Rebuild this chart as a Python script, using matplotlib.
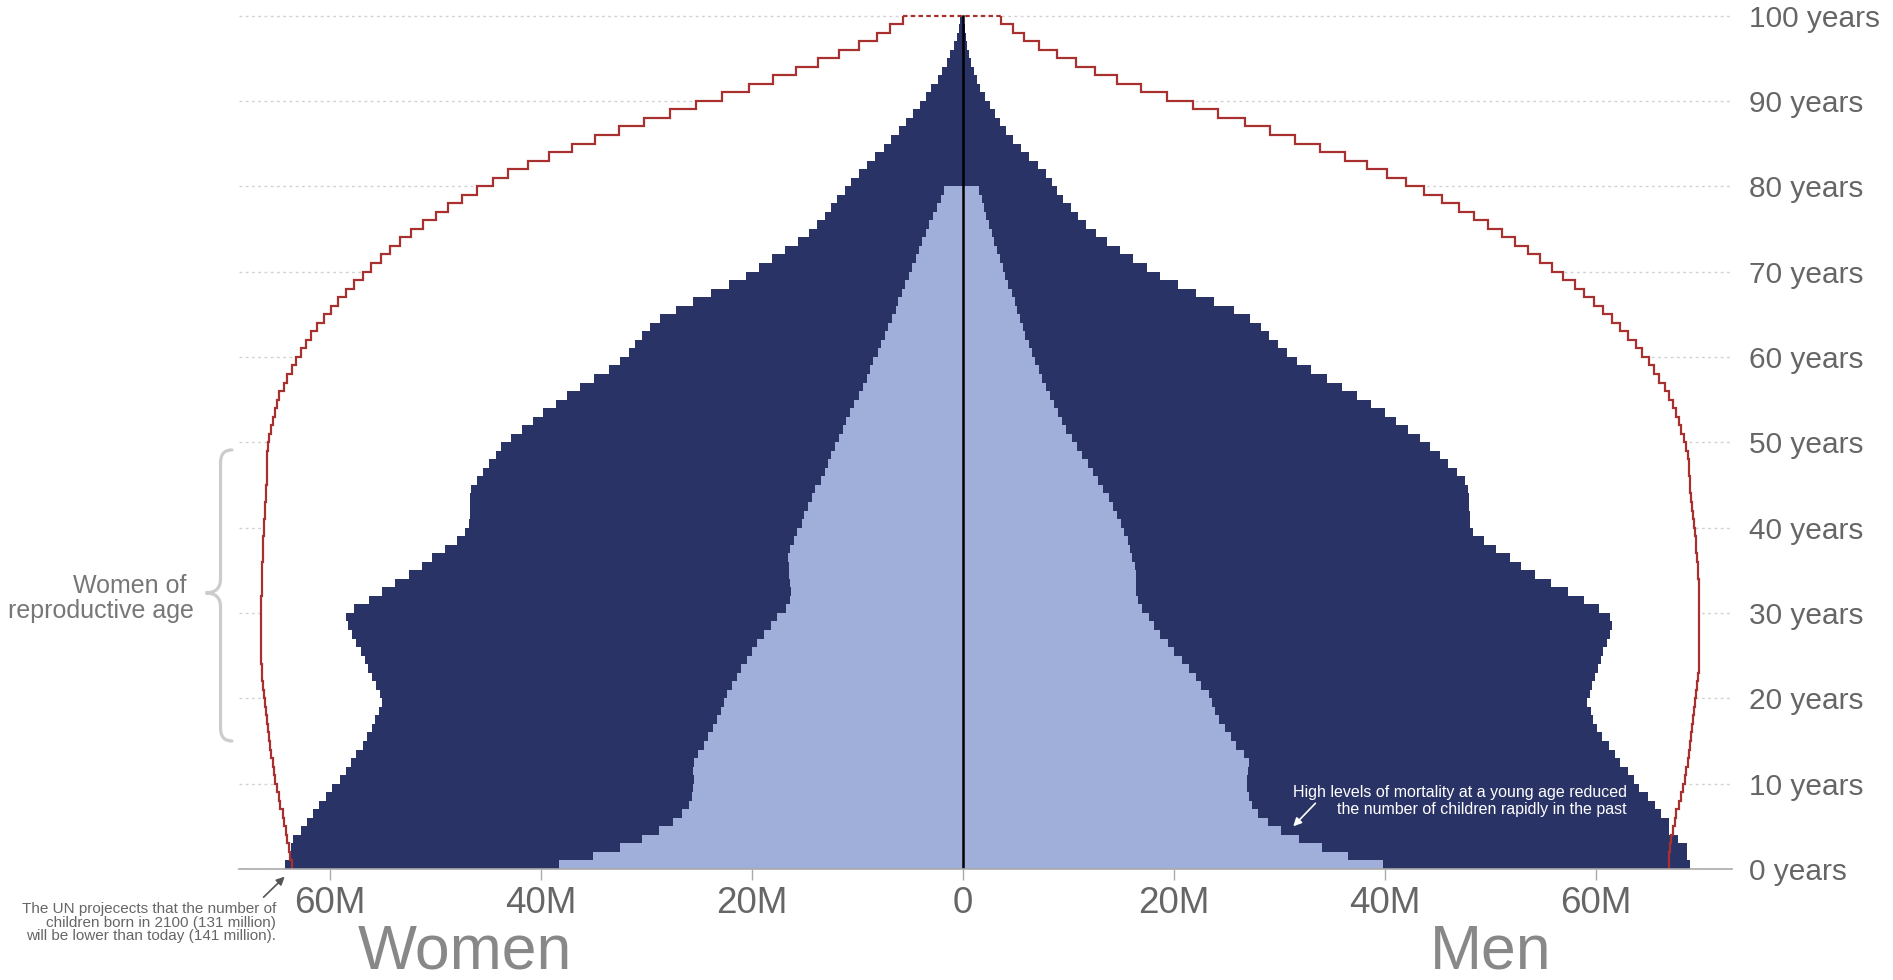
import matplotlib
matplotlib.use("Agg")
import matplotlib.pyplot as plt
import numpy as np
from matplotlib.path import Path
from matplotlib.patches import PathPatch

# population by single year of age, millions (ages 0..99)
men_today = [68.9, 68.6, 68.6, 67.8, 66.9, 66.9, 66.2, 65.6, 64.9, 64.1,
             63.6, 63.0, 62.3, 61.8, 61.2, 60.6, 60.1, 59.7, 59.5, 59.1,
             59.4, 59.6, 59.9, 60.2, 60.5, 60.7, 61.0, 61.3, 61.5, 61.3,
             60.3, 58.9, 57.3, 55.7, 54.2, 52.9, 51.8, 50.5, 49.4, 48.3,
             48.1, 48.1, 48.0, 48.0, 47.9, 47.6, 46.8, 46.0, 45.2, 44.3,
             43.3, 42.2, 41.0, 40.0, 38.7, 37.3, 35.9, 34.5, 33.0, 31.7,
             30.7, 29.9, 29.0, 28.2, 27.2, 25.7, 23.8, 22.1, 20.4, 18.7,
             17.4, 16.1, 14.9, 13.6, 12.6, 11.7, 10.9, 10.2, 9.5, 8.9,
             8.4, 7.9, 7.1, 6.3, 5.5, 4.75, 4.1, 3.55, 3.05, 2.55,
             2.05, 1.65, 1.33, 1.04, 0.79, 0.57, 0.38, 0.25, 0.15, 0.08]

women_today = [64.3, 63.9, 63.7, 63.5, 62.8, 62.2, 61.6, 61.0, 60.4, 59.8,
               59.1, 58.5, 58.0, 57.5, 56.9, 56.5, 56.0, 55.7, 55.4, 55.1,
               55.3, 55.6, 56.0, 56.4, 56.7, 57.1, 57.5, 57.9, 58.3, 58.5,
               57.7, 56.3, 55.1, 53.8, 52.5, 51.3, 50.3, 49.1, 48.0, 47.2,
               46.8, 46.7, 46.7, 46.7, 46.6, 46.1, 45.5, 44.9, 44.3, 43.8,
               42.8, 41.8, 40.8, 39.8, 38.6, 37.5, 36.3, 35.0, 33.6, 32.5,
               31.7, 31.1, 30.4, 29.7, 28.7, 27.2, 25.6, 23.9, 22.2, 20.6,
               19.3, 18.1, 16.9, 15.6, 14.6, 13.8, 13.1, 12.5, 11.9, 11.2,
               10.6, 9.9, 9.1, 8.3, 7.5, 6.8, 6.1, 5.4, 4.77, 4.1,
               3.5, 3.0, 2.4, 2.0, 1.5, 1.2, 0.86, 0.6, 0.4, 0.3]

# 1950 (ages 0..79, last group is 80+ shown flat)
men_1950 = [39.8, 36.5, 34.0, 31.8, 30.1, 28.9, 28.0, 27.4, 27.1, 26.9,
            26.9, 27.0, 27.1, 26.6, 25.9, 25.4, 24.8, 24.3, 23.9, 23.6,
            23.3, 22.6, 22.1, 21.4, 20.8, 20.0, 19.4, 18.7, 18.1, 17.6,
            17.0, 16.6, 16.4, 16.4, 16.4, 16.3, 16.0, 15.8, 15.6, 15.3,
            15.0, 14.6, 14.2, 13.8, 13.3, 12.8, 12.3, 11.8, 11.3, 10.8,
            10.3, 9.8, 9.4, 9.0, 8.6, 8.2, 7.9, 7.5, 7.2, 6.8,
            6.5, 6.25, 5.9, 5.7, 5.4, 5.1, 4.9, 4.6, 4.3, 4.0,
            3.8, 3.5, 3.2, 2.9, 2.7, 2.5, 2.2, 2.0, 1.8, 1.5]

women_1950 = [38.3, 35.1, 32.5, 30.4, 28.8, 27.5, 26.6, 26.0, 25.7, 25.6,
              25.5, 25.6, 25.5, 25.1, 24.6, 24.2, 23.7, 23.3, 22.9, 22.7,
              22.4, 21.9, 21.4, 21.0, 20.5, 20.0, 19.5, 18.9, 18.2, 17.6,
              16.8, 16.4, 16.3, 16.4, 16.5, 16.5, 16.6, 16.4, 16.0, 15.7,
              15.3, 15.1, 14.7, 14.3, 14.0, 13.5, 13.1, 12.8, 12.5, 12.1,
              11.8, 11.4, 11.1, 10.7, 10.3, 9.9, 9.5, 9.1, 8.8, 8.5,
              8.1, 7.8, 7.4, 7.1, 6.7, 6.4, 6.2, 5.8, 5.5, 5.1,
              4.8, 4.5, 4.2, 3.9, 3.5, 3.2, 2.85, 2.5, 2.1, 1.8]

# UN projection for 2100 (ages 0..99)
men_2100 = [66.9, 66.95, 67.0, 67.15, 67.3, 67.45, 67.6, 67.85, 68.1, 68.25,
            68.4, 68.55, 68.7, 68.8, 68.9, 69.0, 69.1, 69.2, 69.3, 69.4,
            69.5, 69.6, 69.7, 69.72, 69.75, 69.78, 69.8, 69.8, 69.8, 69.8,
            69.8, 69.78, 69.75, 69.72, 69.7, 69.65, 69.6, 69.5, 69.45, 69.35,
            69.25, 69.2, 69.1, 69.0, 68.95, 68.9, 68.85, 68.8, 68.7, 68.5,
            68.3, 68.1, 67.9, 67.6, 67.3, 66.9, 66.5, 66.0, 65.5, 65.0,
            64.4, 63.8, 63.0, 62.3, 61.5, 60.7, 59.8, 58.9, 58.0, 56.9,
            55.8, 54.7, 53.6, 52.3, 51.1, 49.8, 48.4, 47.0, 45.4, 43.7,
            42.0, 40.2, 38.3, 36.2, 33.8, 31.5, 29.1, 26.7, 24.2, 21.8,
            19.3, 16.9, 14.6, 12.5, 10.7, 8.9, 7.2, 5.8, 4.7, 3.6]

women_2100 = [63.6, 63.75, 63.9, 64.05, 64.2, 64.35, 64.5, 64.7, 64.85, 65.0,
              65.2, 65.3, 65.45, 65.6, 65.7, 65.8, 65.9, 66.0, 66.1, 66.2,
              66.3, 66.4, 66.45, 66.48, 66.5, 66.5, 66.5, 66.5, 66.5, 66.5,
              66.5, 66.5, 66.48, 66.47, 66.45, 66.43, 66.4, 66.38, 66.33, 66.28,
              66.23, 66.2, 66.15, 66.1, 66.05, 66.0, 66.0, 65.98, 65.95, 65.9,
              65.8, 65.6, 65.4, 65.2, 65.0, 64.8, 64.4, 64.1, 63.6, 63.2,
              62.8, 62.3, 61.8, 61.2, 60.6, 59.9, 59.2, 58.5, 57.7, 56.9,
              56.1, 55.2, 54.3, 53.4, 52.3, 51.2, 50.0, 48.8, 47.5, 46.1,
              44.6, 43.1, 41.2, 39.2, 37.1, 34.9, 32.6, 30.2, 27.8, 25.3,
              22.8, 20.3, 18.0, 15.8, 13.7, 11.8, 9.9, 8.2, 6.9, 5.7]

x_ticks = [-60, -40, -20, 0, 20, 40, 60]
x_labels = ["60M", "40M", "20M", "0", "20M", "40M", "60M"]
y_ticks = list(range(0, 101, 10))
y_labels = [str(a) + " years" for a in y_ticks]

dark = "#2A3366"
light = "#A0AEDA"
red = "#A8302F"

plt.rcParams['font.family'] = ['Liberation Sans', 'DejaVu Sans']

fig = plt.figure(figsize=(18.93, 9.8), dpi=100)
ax = fig.add_axes([239 / 1893, 111 / 980, 1493 / 1893, 101 * 8.535 / 980])
ax.set_xlim(-68.63, 72.89)
ax.set_ylim(0, 101)


def closed(v):
    # repeat the last value so the step fill reaches the top edge
    return np.append(v, v[-1])


edges = np.arange(len(men_today) + 1)
edges_1950 = np.arange(len(men_1950) + 1)

# white area of the 2100 projection hides the grid lines
ax.fill_betweenx(edges, -closed(women_2100), closed(men_2100), step='post',
                 color='white', lw=0, zorder=1)
ax.fill_betweenx(edges, -closed(women_today), closed(men_today), step='post',
                 color=dark, lw=0, zorder=2)
ax.fill_betweenx(edges_1950, -closed(women_1950), closed(men_1950), step='post',
                 color=light, lw=0, zorder=3)

ax.stairs(-np.array(women_2100), edges, orientation='horizontal', baseline=None,
          color=red, lw=1.6, zorder=4)
ax.stairs(men_2100, edges, orientation='horizontal', baseline=None,
          color=red, lw=1.6, zorder=4)
ax.plot([-women_2100[-1], men_2100[-1]], [edges[-1], edges[-1]], color=red,
        lw=1.6, ls=(0, (2, 1.5)), zorder=4, clip_on=False)

ax.plot([0, 0], [0, 100], color='black', lw=1.8, zorder=5)

# axes
ax.set_xticks(x_ticks, x_labels)
ax.set_yticks(y_ticks, y_labels)
ax.yaxis.tick_right()
ax.tick_params(axis='y', length=0, pad=12, labelsize=21.5, labelcolor='#666666')
ax.tick_params(axis='x', length=8, width=1, color='#aaaaaa', pad=4,
               labelsize=26.5, labelcolor='#666666')
ax.grid(axis='y', color='#d2d2d2', ls=(0, (2, 2.5)), lw=1)
ax.set_axisbelow(True)
for s in ['top', 'left', 'right']:
    ax.spines[s].set_visible(False)
ax.spines['bottom'].set_color('#aaaaaa')
ax.spines['bottom'].set_linewidth(1.2)
ax.spines['bottom'].set_zorder(6)

ax.text(-47.2, -11.6, "Women", fontsize=45, color='#888888', ha='center', va='baseline')
ax.text(50.0, -11.6, "Men", fontsize=45, color='#888888', ha='center', va='baseline')

# annotations
ax.text(-65.1, -3.85, "The UN projecects that the number of\nchildren born in 2100 (131 million)\n"
        "will be lower than today (141 million).", fontsize=11, color='#666666',
        ha='right', va='top', multialignment='right', linespacing=0.98)
ax.annotate("", xy=(-64.3, -0.9), xytext=(-66.3, -3.3), annotation_clip=False,
            arrowprops=dict(arrowstyle='-|>', color='#555555', lw=1.2,
                            mutation_scale=12, shrinkA=0, shrinkB=0))

ax.text(62.9, 9.9, "High levels of mortality at a young age reduced\n"
        "the number of children rapidly in the past", fontsize=11.5, color='white',
        ha='right', va='top', multialignment='right', linespacing=1.18, zorder=7)
ax.annotate("", xy=(31.3, 5.0), xytext=(33.4, 7.7), zorder=7,
            arrowprops=dict(arrowstyle='-|>', color='white', lw=1.2,
                            mutation_scale=12, shrinkA=0, shrinkB=0))

ax.text(-72.9, 31.7, "Women of \nreproductive age", fontsize=18, color='#777777',
        ha='right', va='center', multialignment='right', linespacing=1.08)

# curly brace for ages 15 to 49
bx, tip, ex = -70.38, -71.8, -69.3
verts = [(ex, 49.1), (bx, 49.1), (bx, 47.6),
         (bx, 34.0), (bx, 32.35), (tip, 32.35),
         (bx, 32.35), (bx, 30.7),
         (bx, 16.5), (bx, 15.0), (ex, 15.0)]
codes = [Path.MOVETO, Path.CURVE3, Path.CURVE3,
         Path.LINETO, Path.CURVE3, Path.CURVE3,
         Path.CURVE3, Path.CURVE3,
         Path.LINETO, Path.CURVE3, Path.CURVE3]
ax.add_patch(PathPatch(Path(verts, codes), fc='none', ec='#cccccc', lw=2.3,
                       clip_on=False, capstyle='round'))

fig.savefig("out.png", dpi=100)
